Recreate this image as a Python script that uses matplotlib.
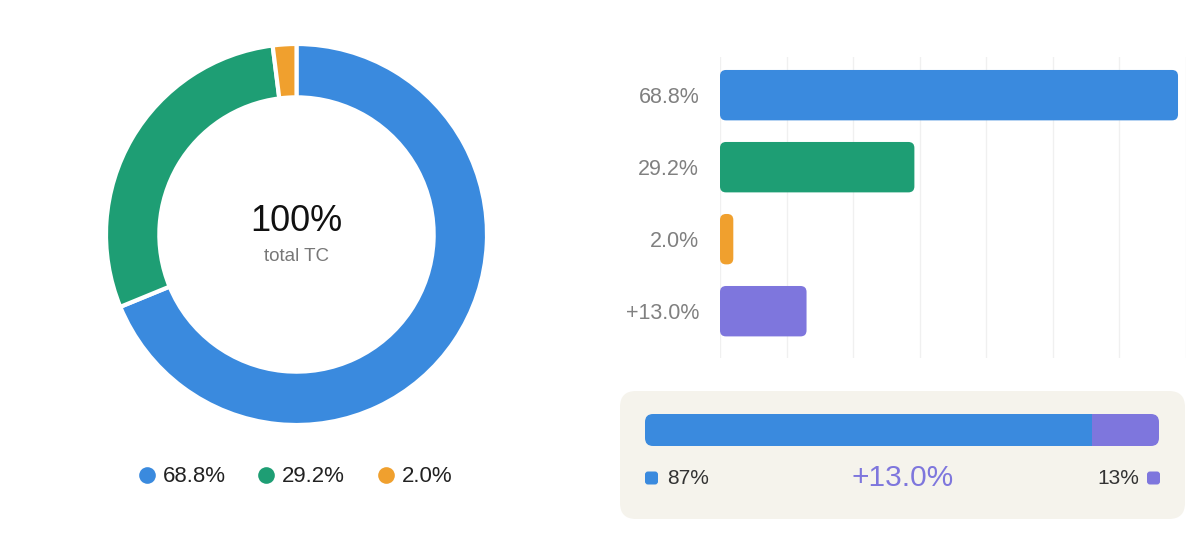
import matplotlib.pyplot as plt
from matplotlib.patches import FancyBboxPatch

plt.rcParams['font.family'] = ['Liberation Sans', 'DejaVu Sans']

# data
shares = [68.8, 29.2, 2.0]
share_labels = ['68.8%', '29.2%', '2.0%']
share_colors = ['#3a8ade', '#1e9e74', '#f0a02e']

bar_values = [68.8, 29.2, 2.0, 13.0]
bar_labels = ['68.8%', '29.2%', '2.0%', '+13.0%']
bar_colors = ['#3a8ade', '#1e9e74', '#f0a02e', '#7e76dd']

split_values = [87, 13]
split_labels = ['87%', '13%']
split_colors = ['#3a8ade', '#7e76dd']
delta_label = '+13.0%'

W, H = 1199, 559
fig = plt.figure(figsize=(W / 100, H / 100), dpi=100)


def px_axes(x0, y0, x1, y1, **kw):
    # axes from pixel box (top-left origin)
    return fig.add_axes([x0 / W, 1 - y1 / H, (x1 - x0) / W, (y1 - y0) / H], **kw)


# overlay for the grey panel and free text
over = px_axes(0, 0, W, H, zorder=0)
over.set_xlim(0, W)
over.set_ylim(H, 0)
over.axis('off')
over.add_patch(FancyBboxPatch((620, 391), 565, 128,
                              boxstyle='round,pad=0,rounding_size=16',
                              fc='#f5f3ec', ec='none'))

# ---- donut ----
R = 190.5
ax = px_axes(296.5 - 200, 234.5 - 200, 296.5 + 200, 234.5 + 200, zorder=1)
wedges, _ = ax.pie(shares, colors=share_colors, startangle=90, counterclock=False,
                   radius=1, wedgeprops=dict(width=0.28, edgecolor='white', linewidth=3))
ax.set_xlim(-200 / R, 200 / R)
ax.set_ylim(-200 / R, 200 / R)
ax.set_aspect('equal')
ax.text(0, (234.5 - 221) / R, '100%', ha='center', va='center', fontsize=26, color='#111111')
ax.text(0, (234.5 - 256) / R, 'total TC', ha='center', va='center', fontsize=13.5,
        color='#777777')

# donut legend
leg_x = [147, 266, 386]
for x, lab, c in zip(leg_x, share_labels, share_colors):
    over.plot(x, 475, 'o', markersize=12, color=c, markeredgewidth=0)
    over.text(x + 16, 476, lab, ha='left', va='center', fontsize=16, color='#222222')

# ---- horizontal bars ----
bx = px_axes(720, 57, 1186, 358, zorder=1)
bars = bx.barh(range(len(bar_values)), bar_values, height=0.7, color=bar_colors)
bx.set_xlim(0, 70)
bx.set_ylim(3.65, -0.53)
rx = 6 / (466 / 70)
ry = 6 / (301 / 4.18)
for b in bars:
    b.set_visible(False)
    bx.add_patch(FancyBboxPatch((b.get_x(), b.get_y()), b.get_width(), b.get_height(),
                                boxstyle=f'round,pad=0,rounding_size={min(rx, b.get_width() / 2)}',
                                mutation_aspect=ry / rx, fc=b.get_facecolor(), ec='none',
                                zorder=2))
bx.set_xticks(range(0, 71, 10))
bx.grid(axis='x', color='#f0f0f0', linewidth=1)
bx.set_axisbelow(True)
bx.tick_params(axis='x', length=0, labelbottom=False)
bx.tick_params(axis='y', length=0, pad=15, labelsize=15.5, labelcolor='#808080')
bx.set_yticks(range(len(bar_labels)))
bx.set_yticklabels(bar_labels)
for s in bx.spines.values():
    s.set_visible(False)

# ---- split bar in panel ----
sx = px_axes(645, 414, 1159, 446, zorder=1)
sx.set_facecolor('none')
clip = FancyBboxPatch((0, 0), 1, 1, boxstyle='round,pad=0,rounding_size=0.0156',
                      mutation_aspect=16.1, transform=sx.transAxes, fc='none', ec='none')
sx.add_patch(clip)
left = 0
for v, c in zip(split_values, split_colors):
    p = sx.barh(0, v, left=left, height=1, color=c)
    p[0].set_clip_path(clip)
    left += v
sx.set_xlim(0, sum(split_values))
sx.set_ylim(-0.5, 0.5)
sx.axis('off')

# panel legend
over.add_patch(FancyBboxPatch((645, 471.5), 13, 13, boxstyle='round,pad=0,rounding_size=3',
                              fc=split_colors[0], ec='none'))
over.text(667, 479, split_labels[0], ha='left', va='center', fontsize=15, color='#333333')
over.add_patch(FancyBboxPatch((1147, 471.5), 13, 13, boxstyle='round,pad=0,rounding_size=3',
                              fc=split_colors[1], ec='none'))
over.text(1139, 479, split_labels[1], ha='right', va='center', fontsize=15, color='#333333')
over.text(903, 478, delta_label, ha='center', va='center', fontsize=21.5, color='#7e76dd')

fig.savefig('out.png', dpi=100, facecolor='white')
